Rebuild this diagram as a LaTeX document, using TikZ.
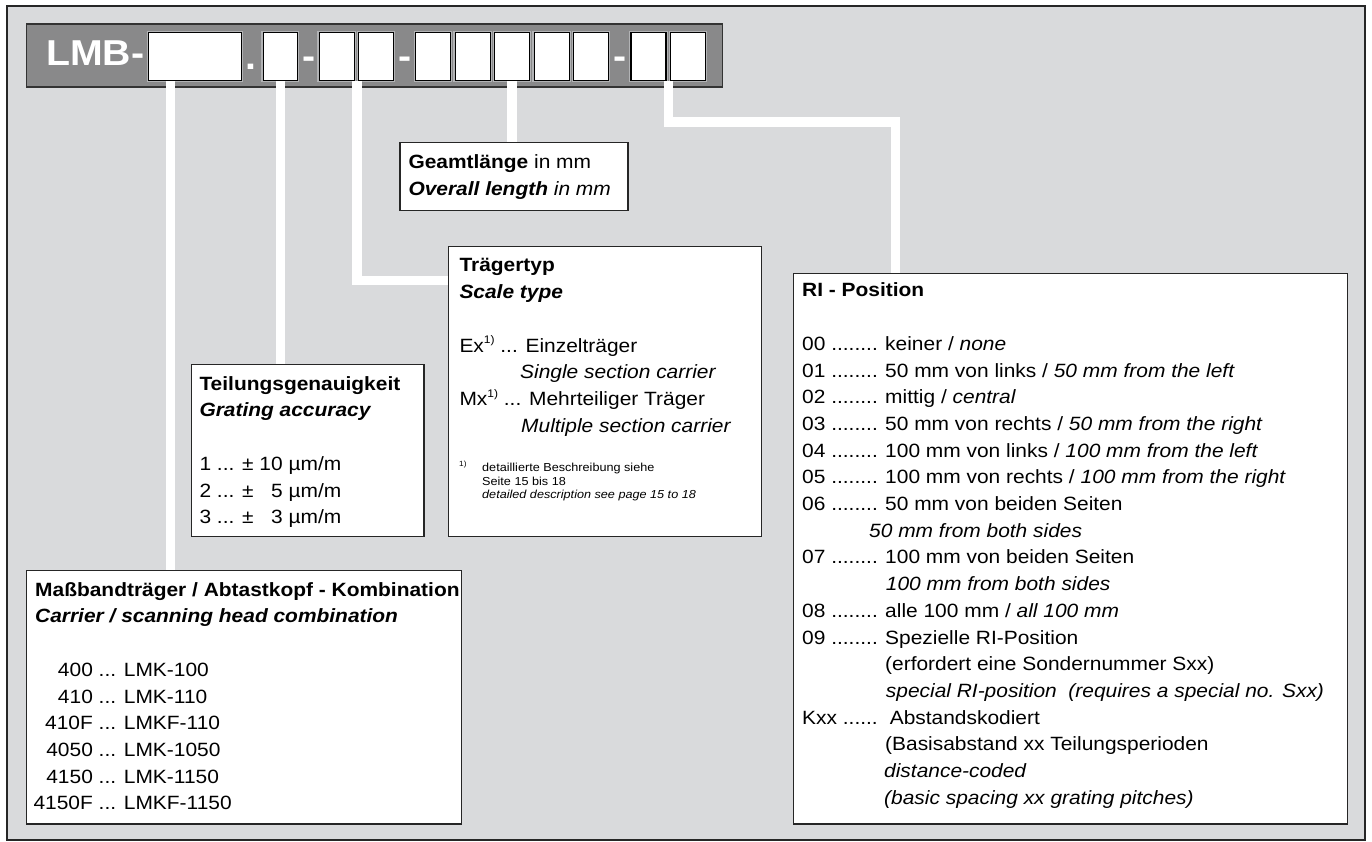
\documentclass[tikz,border=0pt]{standalone}
\usepackage{fontspec}
\setmainfont{Liberation Sans}[FakeStretch=1.09]
\usetikzlibrary{positioning}
\definecolor{framegray}{RGB}{217,218,220}
\definecolor{bargray}{RGB}{137,137,138}
\definecolor{rimgray}{RGB}{178,179,181}
\newcommand{\txtfont}{\fontsize{19.2}{26.7}\selectfont}
\newcommand{\notefont}{\fontsize{11.6}{13.5}\selectfont}
\newcommand{\barfont}{\fontsize{36}{36}\selectfont\bfseries}
\newcommand{\fn}{\raisebox{0.42em}{\fontsize{11}{11}\selectfont 1)}}
\newcommand{\fnsmall}{\raisebox{0.42em}{\fontsize{7.5}{7.5}\selectfont 1)}}
\newcommand{\tp}{\rule{0pt}{15pt}}
\newcommand{\tpn}{\rule{0pt}{9pt}}

\tikzset{
  digitbox/.style={draw=black, fill=white, line width=1.1pt, minimum height=47.7pt,
    minimum width=35pt, inner sep=0, anchor=north west,
    preaction={draw=rimgray, line width=3.6pt}},
  infobox/.style={draw=black!85, fill=white, line width=1.2pt, inner sep=0, anchor=north west},
  infotext/.style={anchor=north west, align=left, inner sep=0, font=\txtfont},
  lead/.style={draw=white, line width=9.3pt},
  barmark/.style={text=white, inner sep=0, anchor=base, font=\barfont}
}

\begin{document}
\begin{tikzpicture}[x=1pt, y=-1pt]
	\useasboundingbox (0,0) rectangle (1372,842);
	\draw[fill=framegray, draw=black!85, line width=1.2pt] (7,6) rectangle (1365,840);
	
	% Order code bar
	\draw[fill=bargray, draw=black!80, line width=1.2pt] (26.6,24) rectangle (722.7,87);
	\node[barmark, anchor=base west] (lmb) at (46,66) {LMB-};
	\node[digitbox, minimum width=92.8pt] (b1) at (147.8,32.3) {};
	\node[barmark] (dot) at (250.6,70) {.};
	\node[digitbox, minimum width=34pt] (b2) at (262.6,32.3) {};
	\node[barmark] (dash1) at (308.8,69) {-};
	\node[digitbox] (b3) at (318.6,32.3) {};
	\node[digitbox, right=3.4pt of b3] (b4) {};
	\node[barmark] (dash2) at (404.7,69) {-};
	\node[digitbox] (b5) at (415,32.3) {};
	\foreach \i [count=\j from 5] in {6,...,9}
		\node[digitbox, right=3.4pt of b\j] (b\i) {};
	\node[barmark] (dash3) at (620.4,69) {-};
	\node[digitbox] (b10) at (630.4,32.3) {};
	\node[digitbox, right=3.4pt of b10] (b11) {};
	
	% Boxes
	\node[infobox, minimum width=228pt, minimum height=68pt] (length) at (399.3,142.3) {};
	\node[infobox, minimum width=313.3pt, minimum height=290pt] (stype) at (447.7,245.7) {};
	\node[infobox, minimum width=232.8pt, minimum height=171.7pt] (accu) at (190.5,364) {};
	\node[infobox, minimum width=435pt, minimum height=253.3pt] (combi) at (26,570) {};
	\node[infobox, minimum width=554pt, minimum height=550.6pt] (ripos) at (792.7,272.7) {};
	
	% Leads
	\draw[lead] ([xshift=22.5pt]b1.south west) coordinate (l1) -- (l1 |- combi.north);
	\draw[lead] (b2.south) -- (b2.south |- accu.north);
	\draw[lead] ([xshift=2.2pt]b3.south east) |- ([yshift=-35pt]stype.north west);
	\draw[lead] (b7.south) -- (b7.south |- length.north);
	\draw[lead] ([xshift=2.2pt]b10.south east) -- ++(0,41) -| ([xshift=102.8pt]ripos.north west);
	
	% Texts
	\node[infotext] (lengthtxt) at ([shift={(9,11)}]length.north west)
		{\tp\textbf{Geamtlänge} in mm\\\textbf{\textit{Overall length}} \textit{in mm}};
	\node[infotext] (stypetxt) at ([shift={(11.6,11)}]stype.north west)
		{\tp\textbf{Trägertyp}\\\textbf{\textit{Scale type}}\\[26.7pt]
		Ex\fn{} ... Einzelträger\\
		\hspace*{60.7pt}\textit{Single section carrier}\\
		Mx\fn{} ... Mehrteiliger Träger\\
		\hspace*{61.7pt}\textit{Multiple section carrier}};
	\node[infotext, font=\notefont] (stypenote) at ([shift={(11.3,215.3)}]stype.north west)
		{\tpn\makebox[23pt][l]{\fnsmall}detaillierte Beschreibung siehe\\
		\hspace*{23pt}Seite 15 bis 18\\
		\hspace*{23pt}\textit{detailed description see page 15 to 18}};
	\node[infotext] (accutxt) at ([shift={(8.8,11)}]accu.north west)
		{\tp\textbf{Teilungsgenauigkeit}\\\textbf{\textit{Grating accuracy}}\\[26.7pt]
		1 ... ± 10 µm/m\\
		2 ... ± \phantom{1}5 µm/m\\
		3 ... ± \phantom{1}3 µm/m};
	\node[infotext] (combitxt) at ([shift={(9,11)}]combi.north west)
		{\tp\textbf{Maßbandträger / Abtastkopf - Kombination}\\
		\textbf{\textit{Carrier / scanning head combination}}\\[26.7pt]
		\makebox[57.7pt][r]{400} ... LMK-100\\
		\makebox[57.7pt][r]{410} ... LMK-110\\
		\makebox[57.7pt][r]{410F} ... LMKF-110\\
		\makebox[57.7pt][r]{4050} ... LMK-1050\\
		\makebox[57.7pt][r]{4150} ... LMK-1150\\
		\makebox[57.7pt][r]{4150F} ... LMKF-1150};
	\node[infotext] (ripostxt) at ([shift={(9.3,9)}]ripos.north west)
		{\tp\textbf{RI - Position}\\[26.7pt]
		\makebox[83pt][l]{00 ........}keiner / \textit{none}\\
		\makebox[83pt][l]{01 ........}50 mm von links / \textit{50 mm from the left}\\
		\makebox[83pt][l]{02 ........}mittig / \textit{central}\\
		\makebox[83pt][l]{03 ........}50 mm von rechts / \textit{50 mm from the right}\\
		\makebox[83pt][l]{04 ........}100 mm von links / \textit{100 mm from the left}\\
		\makebox[83pt][l]{05 ........}100 mm von rechts / \textit{100 mm from the right}\\
		\makebox[83pt][l]{06 ........}50 mm von beiden Seiten\\
		\hspace*{67pt}\textit{50 mm from both sides}\\
		\makebox[83pt][l]{07 ........}100 mm von beiden Seiten\\
		\hspace*{83.7pt}\textit{100 mm from both sides}\\
		\makebox[83pt][l]{08 ........}alle 100 mm / \textit{all 100 mm}\\
		\makebox[83pt][l]{09 ........}Spezielle RI-Position\\
		\hspace*{83pt}(erfordert eine Sondernummer Sxx)\\
		\hspace*{83.7pt}\textit{special RI-position\ \ (requires a special no. Sxx)}\\
		\makebox[87.6pt][l]{Kxx ......}Abstandskodiert\\
		\hspace*{83pt}(Basisabstand xx Teilungsperioden\\
		\hspace*{82pt}\textit{distance-coded}\\
		\hspace*{82pt}\textit{(basic spacing xx grating pitches)}};
\end{tikzpicture}
\end{document}
